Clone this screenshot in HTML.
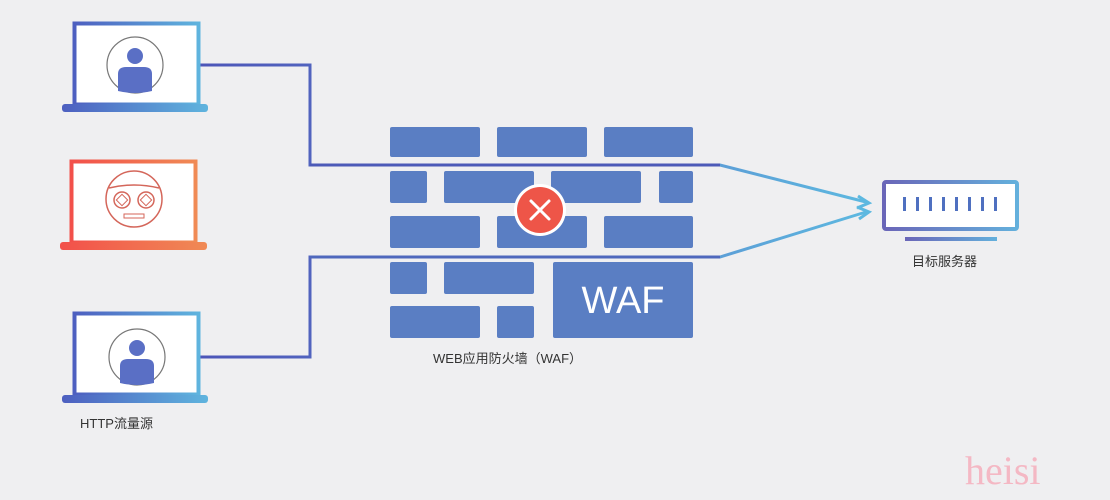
<!DOCTYPE html>
<html><head><meta charset="utf-8"><style>
html,body{margin:0;padding:0;background:#efeff1;}
svg{display:block}
</style></head><body>
<svg width="1110" height="500" viewBox="0 0 1110 500" xmlns="http://www.w3.org/2000/svg">
<defs>
<linearGradient id="b" x1="0" x2="1"><stop offset="0" stop-color="#4d5fc0"/><stop offset="1" stop-color="#5fb4de"/></linearGradient>
<linearGradient id="r" x1="0" x2="1"><stop offset="0" stop-color="#f2504a"/><stop offset="1" stop-color="#f08a55"/></linearGradient>
<linearGradient id="ln" x1="0" x2="1"><stop offset="0" stop-color="#4c55b8"/><stop offset="0.5" stop-color="#5a7fcb"/><stop offset="1" stop-color="#5db8e0"/></linearGradient>
<linearGradient id="s" x1="0" x2="1"><stop offset="0" stop-color="#6a66b8"/><stop offset="1" stop-color="#64b0dc"/></linearGradient>
</defs>
<rect width="1110" height="500" fill="#efeff1"/>
<polyline points="200,65 310,65 310,165 720,165 866,202" fill="none" stroke="url(#ln)" stroke-width="3"/>
<polyline points="200,357 310,357 310,257 720,257 866,212" fill="none" stroke="url(#ln)" stroke-width="3"/>
<g fill="#5a7ec3">
<rect x="390" y="127" width="90" height="30" rx="2"/><rect x="497" y="127" width="90" height="30" rx="2"/><rect x="604" y="127" width="89" height="30" rx="2"/>
<rect x="390" y="171" width="37" height="32" rx="2"/><rect x="444" y="171" width="90" height="32" rx="2"/><rect x="551" y="171" width="90" height="32" rx="2"/><rect x="659" y="171" width="34" height="32" rx="2"/>
<rect x="390" y="216" width="90" height="32" rx="2"/><rect x="497" y="216" width="90" height="32" rx="2"/><rect x="604" y="216" width="89" height="32" rx="2"/>
<rect x="390" y="262" width="37" height="32" rx="2"/><rect x="444" y="262" width="90" height="32" rx="2"/><rect x="553" y="262" width="140" height="76" rx="2"/>
<rect x="390" y="306" width="90" height="32" rx="2"/><rect x="497" y="306" width="37" height="32" rx="2"/>
</g>
<polyline points="310,165 720,165" stroke="#4c5ab8" stroke-width="3"/>
<polyline points="310,257 720,257" stroke="#4f68bd" stroke-width="3"/>
<text x="623" y="313" font-family="Liberation Sans,sans-serif" font-size="38" fill="#fff" text-anchor="middle">WAF</text>
<line x1="197" y1="209" x2="515" y2="209" stroke="url(#r)" stroke-width="3"/>
<circle cx="540" cy="210" r="26" fill="#fff"/>
<circle cx="540" cy="210" r="23" fill="#ee5548"/>
<path d="M531,201 L549,219 M549,201 L531,219" stroke="#fff" stroke-width="3" stroke-linecap="round"/>
<path d="M858,196 L869,203 L857,208" fill="none" stroke="#5db8e0" stroke-width="3"/>
<path d="M857,207 L869,212 L859,219" fill="none" stroke="#5db8e0" stroke-width="3"/>
<!-- laptop 1 -->
<rect x="74.5" y="23.5" width="124" height="81" fill="#fff" stroke="url(#b)" stroke-width="4"/>
<rect x="62" y="104" width="146" height="8" rx="3" fill="url(#b)"/>
<circle cx="135" cy="65" r="28" fill="#fff" stroke="#777" stroke-width="1.2"/>
<circle cx="135" cy="56" r="8" fill="#5a6fc5"/>
<path d="M118,91 L118,74 Q118,67 126,67 L144,67 Q152,67 152,74 L152,91 Q135,95 118,91Z" fill="#5a6fc5"/>
<!-- laptop 2 -->
<rect x="71.5" y="161.5" width="124" height="81" fill="#fff" stroke="url(#r)" stroke-width="4"/>
<rect x="60" y="242" width="147" height="8" rx="3" fill="url(#r)"/>
<circle cx="134" cy="199" r="28" fill="#fff" stroke="#d4665a" stroke-width="1.5"/>
<path d="M109,188 Q134,182 159,188" fill="none" stroke="#d4665a" stroke-width="1.5"/>
<circle cx="122" cy="200" r="8" fill="none" stroke="#d4665a" stroke-width="1.5"/>
<circle cx="146" cy="200" r="8" fill="none" stroke="#d4665a" stroke-width="1.5"/>
<rect x="118" y="196" width="8" height="8" transform="rotate(45 122 200)" fill="none" stroke="#d4665a"/>
<rect x="142" y="196" width="8" height="8" transform="rotate(45 146 200)" fill="none" stroke="#d4665a"/>
<rect x="124" y="214" width="20" height="4" fill="none" stroke="#d4665a"/>
<!-- laptop 3 -->
<rect x="74.5" y="313.5" width="124" height="81" fill="#fff" stroke="url(#b)" stroke-width="4"/>
<rect x="62" y="395" width="146" height="8" rx="3" fill="url(#b)"/>
<circle cx="137" cy="357" r="28" fill="#fff" stroke="#777" stroke-width="1.2"/>
<circle cx="137" cy="348" r="8" fill="#5a6fc5"/>
<path d="M120,383 L120,366 Q120,359 128,359 L146,359 Q154,359 154,366 L154,383 Q137,387 120,383Z" fill="#5a6fc5"/>
<!-- server -->
<rect x="884" y="182" width="133" height="47" fill="#fff" stroke="url(#s)" stroke-width="4" rx="2"/>
<g fill="#4f70c0">
<rect x="903" y="197" width="3" height="14"/><rect x="916" y="197" width="3" height="14"/><rect x="929" y="197" width="3" height="14"/><rect x="942" y="197" width="3" height="14"/><rect x="955" y="197" width="3" height="14"/><rect x="968" y="197" width="3" height="14"/><rect x="981" y="197" width="3" height="14"/><rect x="994" y="197" width="3" height="14"/>
</g>
<rect x="905" y="237" width="92" height="4" fill="url(#s)"/>
<text x="912" y="266" font-family="Liberation Sans,Noto Sans CJK SC,sans-serif" font-size="13" fill="#333">目标服务器</text>
<text x="433" y="363" font-family="Liberation Sans,Noto Sans CJK SC,sans-serif" font-size="13" fill="#333">WEB应用防火墙（WAF）</text>
<text x="80" y="428" font-family="Liberation Sans,Noto Sans CJK SC,sans-serif" font-size="13" fill="#333">HTTP流量源</text>
<text x="965" y="484" font-family="Liberation Serif,serif" font-size="40" fill="#f4b8c4">heisi</text>
</svg>
</body></html>
